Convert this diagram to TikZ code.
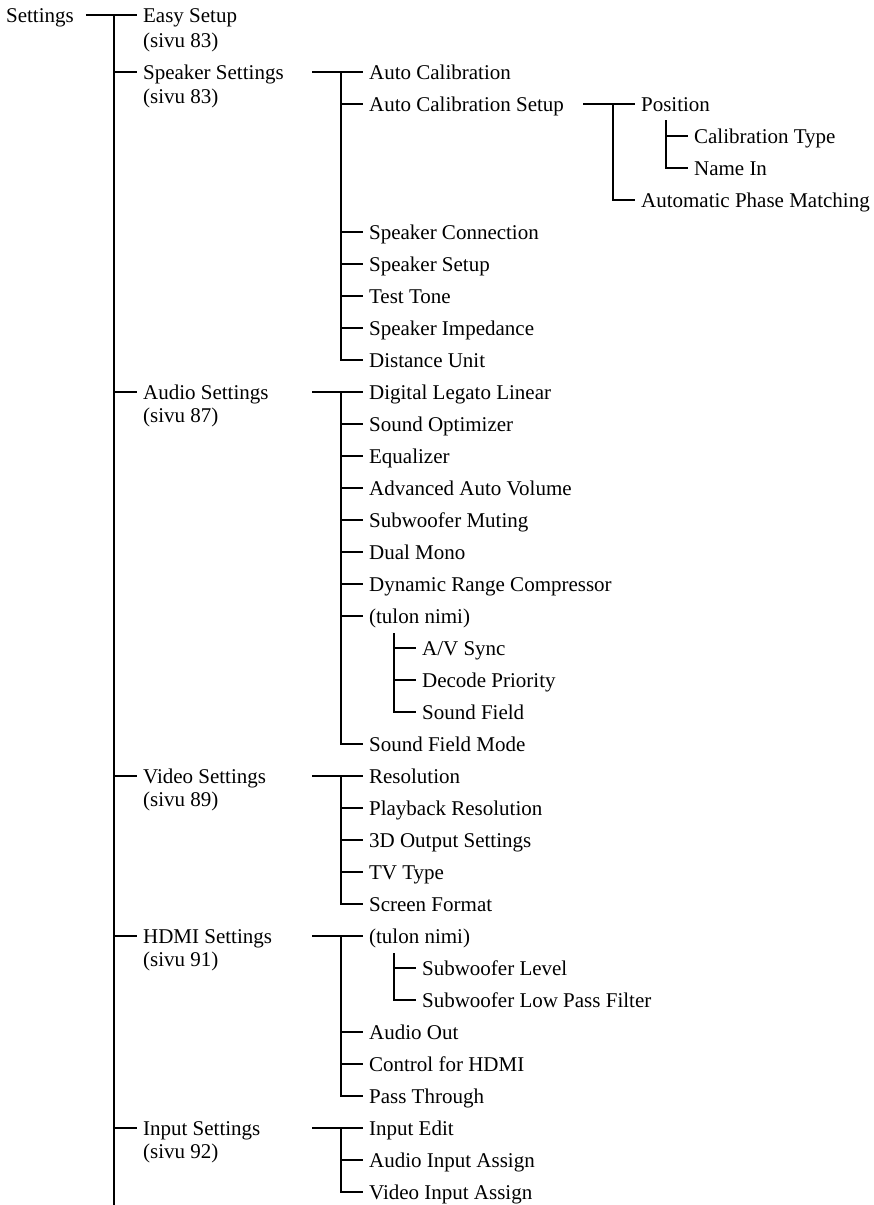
\documentclass[tikz,border=0pt]{standalone}
\usepackage{fontspec}
\setmainfont{Liberation Serif}
\usetikzlibrary{positioning}

\begin{document}
\begin{tikzpicture}[x=1pt, y=-1pt, line width=2.2pt,
  every node/.style={font=\fontsize{21}{24}\selectfont, anchor=west,
    inner xsep=5pt, inner ysep=0pt, text height=16pt, text depth=2pt}]
  \useasboundingbox (0,0) rectangle (874,1205);

  % top level
  \node (root) at (0,15) {Settings};
  \coordinate (trunk) at (114,15);
  \coordinate (trunkend) at (114,1205);
  \node (easy) at (137,15) {Easy Setup};
  \node (easyp) at (137,40) {(sivu 83)};
  \node (spk) at (137,72) {Speaker Settings};
  \node (spkp) at (137,96) {(sivu 83)};
  \node (aud) at (137,392) {Audio Settings};
  \node (audp) at (137,415) {(sivu 87)};
  \node (vid) at (137,776) {Video Settings};
  \node (vidp) at (137,799) {(sivu 89)};
  \node (hdmi) at (137,936) {HDMI Settings};
  \node (hdmip) at (137,959) {(sivu 91)};
  \node (inp) at (137,1128) {Input Settings};
  \node (inpp) at (137,1151) {(sivu 92)};
  \draw ([xshift=6pt]root.east) -- (easy.west);
  \draw (trunk) -- (trunkend);
  \foreach \n in {spk,aud,vid,hdmi,inp}
    \draw (trunk) |- (\n.west);

  % speaker settings
  \coordinate (spkL) at (312,72);
  \coordinate (spkV) at (341,72);
  \node (ac) at (363,72) {Auto Calibration};
  \node (acs) at (363,104) {Auto Calibration Setup};
  \node (spc) at (363,232) {Speaker Connection};
  \node (sps) at (363,264) {Speaker Setup};
  \node (tt) at (363,296) {Test Tone};
  \node (imp) at (363,328) {Speaker Impedance};
  \node (du) at (363,360) {Distance Unit};
  \draw (spkL) -- (ac.west);
  \foreach \n in {acs,spc,sps,tt,imp,du}
    \draw (spkV) |- (\n.west);

  \coordinate (acsL) at (583,104);
  \coordinate (acsV) at (613,104);
  \node (pos) at (635,104) {Position};
  \node (apm) at (635,200) {Automatic Phase Matching};
  \draw (acsL) -- (pos.west);
  \draw (acsV) |- (apm.west);
  \coordinate (posV) at (666,120);
  \node (ct) at (688,136) {Calibration Type};
  \node (ni) at (688,168) {Name In};
  \foreach \n in {ct,ni}
    \draw (posV) |- (\n.west);

  % audio settings
  \coordinate (audL) at (312,392);
  \coordinate (audV) at (341,392);
  \node (dll) at (363,392) {Digital Legato Linear};
  \node (so) at (363,424) {Sound Optimizer};
  \node (eq) at (363,456) {Equalizer};
  \node (aav) at (363,488) {Advanced Auto Volume};
  \node (sm) at (363,520) {Subwoofer Muting};
  \node (dm) at (363,552) {Dual Mono};
  \node (drc) at (363,584) {Dynamic Range Compressor};
  \node (tna) at (363,616) {(tulon nimi)};
  \node (sfm) at (363,744) {Sound Field Mode};
  \draw (audL) -- (dll.west);
  \foreach \n in {so,eq,aav,sm,dm,drc,tna,sfm}
    \draw (audV) |- (\n.west);
  \coordinate (tnaV) at (394,633);
  \node (avs) at (416,648) {A/V Sync};
  \node (dp) at (416,680) {Decode Priority};
  \node (sfd) at (416,712) {Sound Field};
  \foreach \n in {avs,dp,sfd}
    \draw (tnaV) |- (\n.west);

  % video settings
  \coordinate (vidL) at (312,776);
  \coordinate (vidV) at (341,776);
  \node (res) at (363,776) {Resolution};
  \node (pb) at (363,808) {Playback Resolution};
  \node (tdo) at (363,840) {3D Output Settings};
  \node (tvt) at (363,872) {TV Type};
  \node (scf) at (363,904) {Screen Format};
  \draw (vidL) -- (res.west);
  \foreach \n in {pb,tdo,tvt,scf}
    \draw (vidV) |- (\n.west);

  % hdmi settings
  \coordinate (hdmiL) at (312,936);
  \coordinate (hdmiV) at (341,936);
  \node (tnh) at (363,936) {(tulon nimi)};
  \node (ao) at (363,1032) {Audio Out};
  \node (cfh) at (363,1064) {Control for HDMI};
  \node (pt) at (363,1096) {Pass Through};
  \draw (hdmiL) -- (tnh.west);
  \foreach \n in {ao,cfh,pt}
    \draw (hdmiV) |- (\n.west);
  \coordinate (tnhV) at (394,953);
  \node (swl) at (416,968) {Subwoofer Level};
  \node (lpf) at (416,1000) {Subwoofer Low Pass Filter};
  \foreach \n in {swl,lpf}
    \draw (tnhV) |- (\n.west);

  % input settings
  \coordinate (inpL) at (312,1128);
  \coordinate (inpV) at (341,1128);
  \node (ie) at (363,1128) {Input Edit};
  \node (aia) at (363,1160) {Audio Input Assign};
  \node (via) at (363,1192) {Video Input Assign};
  \draw (inpL) -- (ie.west);
  \foreach \n in {aia,via}
    \draw (inpV) |- (\n.west);
\end{tikzpicture}
\end{document}
